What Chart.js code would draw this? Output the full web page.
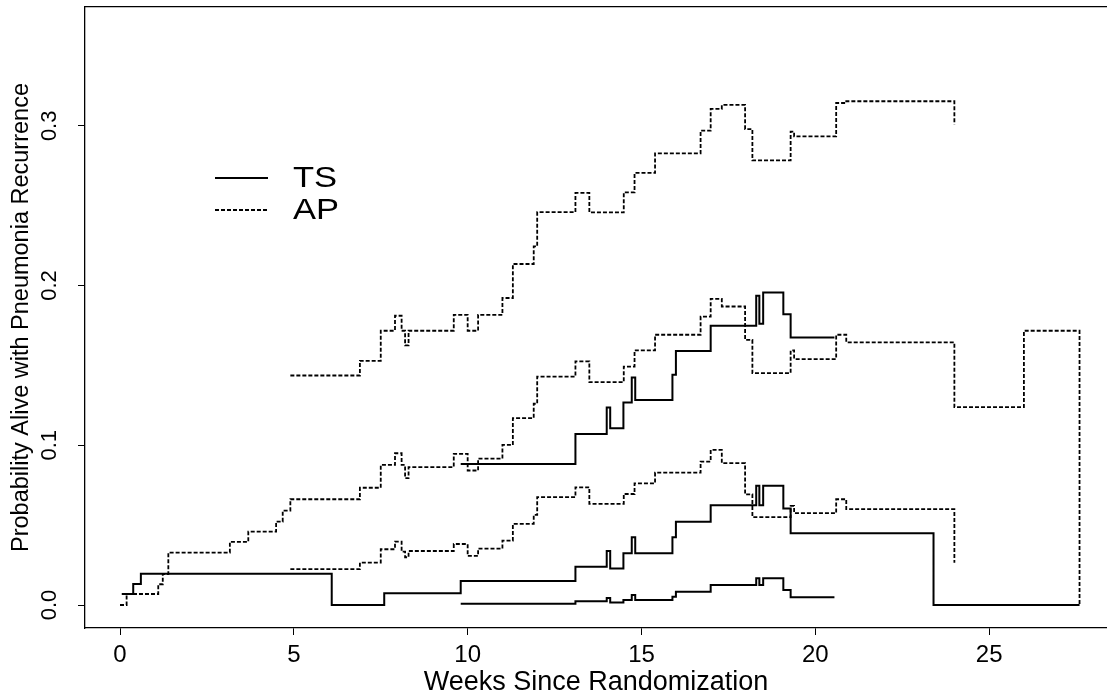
<!DOCTYPE html>
<html>
<head>
<meta charset="utf-8">
<script src="https://cdn.jsdelivr.net/npm/chart.js@4.4.1/dist/chart.umd.min.js"></script>
<style>
  body { margin: 0; background: #fff; }
</style>
</head>
<body>
<canvas id="grafico" width="1107" height="700"></canvas>
<script>
// tempos (semanas) e valores de cada curva em degrau
const tsTempos = [0.05, 0.38, 0.6, 6.09, 7.6, 9.8, 13.1, 14.0, 14.1, 14.48, 14.72, 14.82, 15.89, 15.99, 16.99, 18.3, 18.39, 18.5, 19.08, 19.29, 23.4, 27.6];
const tsEstimativa = [0.0069, 0.0132, 0.0196, 0, 0.0073, 0.015, 0.024, 0.0338, 0.0228, 0.0324, 0.0424, 0.0324, 0.0424, 0.0522, 0.0625, 0.0746, 0.0625, 0.0746, 0.0604, 0.0449, 0, 0];

const tsTemposIC = [9.8, 13.1, 14.0, 14.1, 14.48, 14.72, 14.82, 15.89, 15.99, 16.99, 18.3, 18.39, 18.5, 19.08, 19.29, 20.55];
const tsSuperior = [0.0883, 0.1071, 0.1236, 0.1107, 0.1268, 0.1424, 0.1284, 0.1441, 0.1591, 0.1748, 0.1936, 0.1761, 0.1957, 0.1821, 0.1675, 0.1675];
const tsInferior = [0.0008, 0.0023, 0.0044, 0.0015, 0.0031, 0.0063, 0.0031, 0.0052, 0.0083, 0.0125, 0.0167, 0.0125, 0.0167, 0.0094, 0.0048, 0.0048];

const apTempos = [0, 0.19, 1.1, 1.23, 1.39, 3.16, 3.69, 4.49, 4.68, 4.9, 6.9, 7.5, 7.91, 8.1, 8.2, 8.3, 9.6, 10.0, 10.3, 11.0, 11.3, 11.9, 12.0, 13.1, 13.5, 14.49, 14.8, 15.39, 16.7, 16.99, 17.31, 17.98, 18.19, 19.29, 19.39, 20.6, 20.89, 24.0, 26.0, 27.6];
const apEstimativa = [0, 0.0069, 0.013, 0.0194, 0.0328, 0.0395, 0.0459, 0.0522, 0.0591, 0.0662, 0.0734, 0.0877, 0.095, 0.0877, 0.0794, 0.0863, 0.0946, 0.0842, 0.0917, 0.1002, 0.117, 0.126, 0.143, 0.1525, 0.1395, 0.1493, 0.1594, 0.1692, 0.1806, 0.1917, 0.1869, 0.166, 0.1452, 0.1594, 0.154, 0.1692, 0.1644, 0.1239, 0.1717, 0];

const apTemposIC = [4.9, 6.9, 7.5, 7.91, 8.1, 8.2, 8.3, 9.6, 10.0, 10.3, 11.0, 11.3, 11.9, 12.0, 13.1, 13.5, 14.49, 14.8, 15.39, 16.7, 16.99, 17.31, 17.98, 18.19, 19.29, 19.39, 20.6, 20.89, 24.0];
const apSuperior = [0.1437, 0.1529, 0.1717, 0.1811, 0.1717, 0.1625, 0.1717, 0.1817, 0.1717, 0.1817, 0.1922, 0.2135, 0.2245, 0.246, 0.258, 0.2458, 0.2584, 0.2705, 0.2828, 0.297, 0.3106, 0.3131, 0.298, 0.2784, 0.2964, 0.2934, 0.3143, 0.3154, 0.3008];
const apInferior = [0.0224, 0.0265, 0.0349, 0.0397, 0.0334, 0.0299, 0.0338, 0.0382, 0.0307, 0.0353, 0.0403, 0.0508, 0.0564, 0.0675, 0.0737, 0.0633, 0.0695, 0.0762, 0.0829, 0.0898, 0.0971, 0.0888, 0.0693, 0.055, 0.062, 0.0575, 0.0662, 0.06, 0.0265];

const ticksX = [0, 5, 10, 15, 20, 25];
const ticksY = [0, 0.1, 0.2, 0.3];
const legendaItens = ['TS', 'AP'];

const fonte = '"Liberation Sans", Arial, Helvetica, sans-serif';

function degraus(tempos, valores) {
  return tempos.map((t, i) => ({ x: t, y: valores[i] }));
}

function serie(label, tempos, valores, tracejado) {
  return {
    label: label,
    data: degraus(tempos, valores),
    borderColor: '#000',
    borderWidth: tracejado ? 1.8 : 2,
    borderDash: tracejado ? [4, 2] : [],
    stepped: true,
    fill: false,
    pointRadius: 0,
    tension: 0
  };
}

// legenda desenhada dentro da area do grafico
const legendaManual = {
  id: 'legendaManual',
  afterDatasetsDraw(chart) {
    const ctx = chart.ctx;
    ctx.save();
    legendaItens.forEach((nome, i) => {
      const ds = chart.data.datasets.find(d => d.label === nome);
      const y = 178 + i * 32;
      ctx.strokeStyle = ds.borderColor;
      ctx.lineWidth = ds.borderWidth;
      ctx.setLineDash(ds.borderDash);
      ctx.beginPath();
      ctx.moveTo(215, y);
      ctx.lineTo(268, y);
      ctx.stroke();
      ctx.setLineDash([]);
      ctx.fillStyle = '#000';
      ctx.font = '30px ' + fonte;
      ctx.textBaseline = 'middle';
      ctx.save();
      ctx.translate(293, y + 1);
      ctx.scale(1.15, 1);
      ctx.fillText(nome, 0, 0);
      ctx.restore();
    });
    ctx.restore();
  }
};

const eixoGrid = { display: true, drawOnChartArea: false, drawTicks: true, tickLength: 7, color: '#000', lineWidth: 1 };
const eixoBorda = { display: true, color: '#000', width: 1.3 };

const ctx = document.getElementById('grafico');

new Chart(ctx, {
  type: 'line',
  data: {
    datasets: [
      serie('TS', tsTempos, tsEstimativa, false),
      serie('TS superior', tsTemposIC, tsSuperior, false),
      serie('TS inferior', tsTemposIC, tsInferior, false),
      serie('AP', apTempos, apEstimativa, true),
      serie('AP superior', apTemposIC, apSuperior, true),
      serie('AP inferior', apTemposIC, apInferior, true)
    ]
  },
  options: {
    responsive: false,
    animation: false,
    devicePixelRatio: 1,
    layout: { padding: { top: 7, left: 0, right: 0, bottom: 0 } },
    plugins: {
      legend: { display: false },
      tooltip: { enabled: false }
    },
    scales: {
      x: {
        type: 'linear',
        position: 'bottom',
        min: -1.007,
        max: 28.39,
        afterBuildTicks: s => { s.ticks = ticksX.map(v => ({ value: v })); },
        afterFit: s => { s.height = 72; },
        ticks: { callback: v => String(v), color: '#000', padding: 6, maxRotation: 0, font: { family: fonte, size: 24 } },
        grid: eixoGrid,
        border: eixoBorda,
        title: {
          display: true,
          text: 'Weeks Since Randomization',
          color: '#000',
          font: { family: fonte, size: 27 },
          padding: { top: 0, bottom: 1 }
        }
      },
      xTopo: {
        type: 'linear',
        position: 'top',
        min: 0,
        max: 1,
        ticks: { display: false },
        grid: { display: false, drawTicks: false },
        border: eixoBorda,
        afterFit: s => { s.height = 0; }
      },
      y: {
        min: -0.0144,
        max: 0.3744,
        afterBuildTicks: s => { s.ticks = ticksY.map(v => ({ value: v })); },
        afterFit: s => { s.width = 85; s.paddingTop = 0; s.paddingBottom = 0; },
        ticks: {
          callback: v => v.toFixed(1),
          color: '#000',
          minRotation: 90,
          maxRotation: 90,
          crossAlign: 'center',
          padding: 13,
          font: { family: fonte, size: 22 }
        },
        grid: eixoGrid,
        border: eixoBorda,
        title: {
          display: true,
          text: 'Probability Alive with Pneumonia Recurrence',
          color: '#000',
          font: { family: fonte, size: 23.5 },
          padding: { top: 7, bottom: 0 }
        }
      }
    }
  },
  plugins: [legendaManual]
});
</script>
</body>
</html>
